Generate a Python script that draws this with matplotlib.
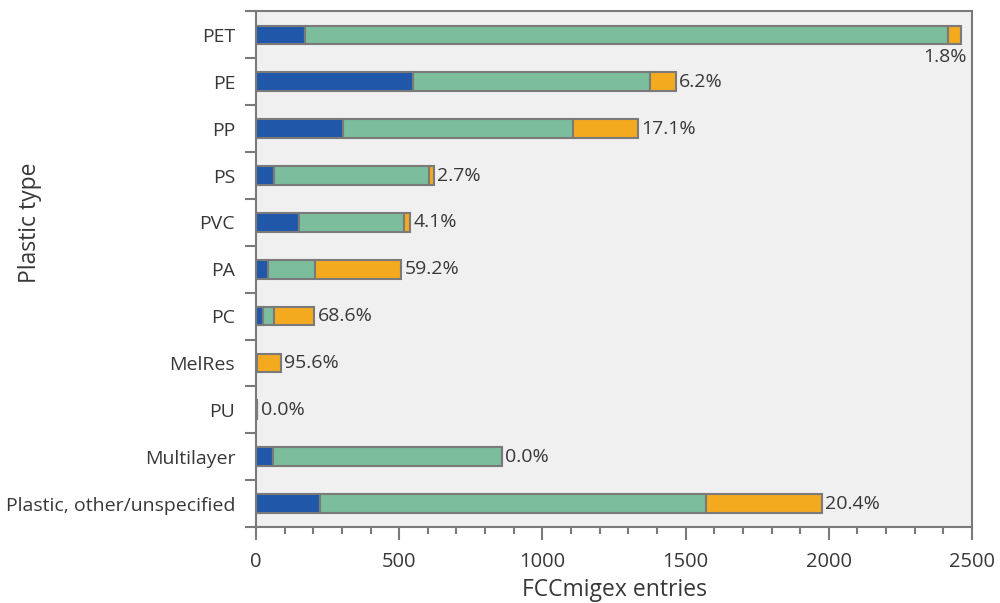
"""
FCCmigex entries by plastic type, stacked horizontal bars
"""

import matplotlib
matplotlib.use("Agg")
import matplotlib.pyplot as plt
from matplotlib.ticker import MultipleLocator, FixedLocator
import numpy as np

# ── Data ─────────────────────────────────────────────────────────────────────
categories = ["PET", "PE", "PP", "PS", "PVC", "PA", "PC", "MelRes", "PU",
              "Multilayer", "Plastic, other/unspecified"]
blue   = [171, 548, 304, 63, 150, 42, 24, 0, 1, 59, 223]
green  = [2245, 827, 802, 541, 366, 164, 40, 4, 3, 800, 1348]
orange = [44, 91, 228, 17, 22, 300, 139, 83, 0, 0, 405]
pct_labels = ["1.8%", "6.2%", "17.1%", "2.7%", "4.1%", "59.2%", "68.6%",
              "95.6%", "0.0%", "0.0%", "20.4%"]

# ── Style ────────────────────────────────────────────────────────────────────
plt.rcParams["font.family"] = ["Open Sans", "DejaVu Sans"]
C_BLUE, C_GREEN, C_ORANGE = "#2157a8", "#7bbd9d", "#f4aa1f"
EDGE = "#7a7a7a"
TXT  = "#383838"
FS = 14

fig = plt.figure(figsize=(10, 6.03), dpi=100, facecolor="white")
ax = fig.add_axes([0.256, 0.126, 0.716, 0.855])
ax.set_facecolor("#f0f0f0")

y = np.arange(len(categories))
b = np.array(blue); g = np.array(green); o = np.array(orange)
kw = dict(height=0.4, edgecolor=EDGE, linewidth=1.5)
ax.barh(y, b, color=C_BLUE, **kw)
ax.barh(y, g, left=b, color=C_GREEN, **kw)
ax.barh(y, o, left=b + g, color=C_ORANGE, **kw)

totals = b + g + o
for i, (t, lab) in enumerate(zip(totals, pct_labels)):
    if i == 0:
        # PET label sits under the end of the bar
        ax.text(t + 22, i + 0.28, lab, ha="right", va="top", fontsize=FS, color=TXT)
    else:
        ax.text(t + 12, i, lab, ha="left", va="center", fontsize=FS, color=TXT)

ax.set_xlim(0, 2500)
ax.set_ylim(len(categories) - 0.5, -0.5)

ax.xaxis.set_major_locator(MultipleLocator(500))
ax.xaxis.set_minor_locator(MultipleLocator(100))
ax.set_yticks(y)
ax.set_yticklabels(categories)
ax.yaxis.set_minor_locator(FixedLocator(np.arange(-0.5, len(categories), 1.0)))

ax.tick_params(axis="x", which="major", length=9, width=1.5, color=EDGE,
               labelsize=14.5, labelcolor=TXT, pad=9)
ax.tick_params(axis="x", which="minor", length=5, width=1.5, color=EDGE)
ax.tick_params(axis="y", which="major", length=0, labelsize=FS,
               labelcolor=TXT, pad=15)
ax.tick_params(axis="y", which="minor", length=8, width=1.5, color=EDGE)

for spine in ax.spines.values():
    spine.set_edgecolor(EDGE)
    spine.set_linewidth(1.5)

ax.set_xlabel("FCCmigex entries", fontsize=16.5, color=TXT, labelpad=4)
ax.set_ylabel("Plastic type", fontsize=16.5, color=TXT)
ax.yaxis.set_label_coords(-0.299, 0.59)

fig.savefig("out.png", dpi=100, facecolor="white")
